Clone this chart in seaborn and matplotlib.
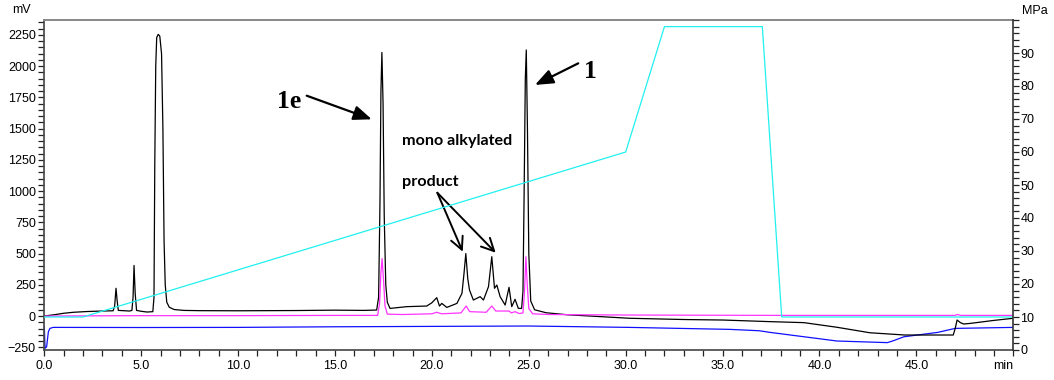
import matplotlib
matplotlib.use("Agg")
import matplotlib.pyplot as plt
import seaborn as sns
import pandas as pd
from matplotlib.ticker import MultipleLocator

# ---------------- data ----------------
# black trace (mV)
black_t = [0.0, 0.5, 1.0, 1.5, 2.2, 3.0, 3.55, 3.63, 3.70, 3.76, 3.82, 4.4,
           4.52, 4.58, 4.63, 4.69, 4.76, 5.0, 5.3, 5.6, 5.66, 5.70, 5.75, 5.80,
           5.88, 5.96, 6.05, 6.12, 6.18, 6.24, 6.32, 6.45, 6.7, 7.2, 8.0, 10.0,
           13.0, 15.0, 16.5, 17.15, 17.25, 17.32, 17.37, 17.42, 17.48, 17.54,
           17.62, 17.70, 17.84, 18.7, 19.73, 19.99, 20.25, 20.39, 20.51, 20.77,
           21.29, 21.55, 21.65, 21.75, 21.85, 21.94, 22.14, 22.49, 22.66, 22.92,
           23.09, 23.23, 23.35, 23.52, 23.78, 23.98, 24.12, 24.29, 24.46, 24.63,
           24.70, 24.76, 24.82, 24.87, 24.93, 25.0, 25.1, 25.3, 25.9, 27.0,
           30.2, 33.0, 35.0, 37.45, 39.2, 40.9, 42.6, 44.4, 46.9, 46.99, 47.1,
           47.27, 47.44, 47.78, 49.0, 50.0]
black_mv = [0, 10, 22, 30, 36, 40, 42, 80, 222, 120, 45, 40,
            45, 150, 405, 180, 45, 38, 32, 35, 150, 1200, 2000, 2230,
            2255, 2240, 2100, 1500, 600, 250, 110, 70, 52, 45, 43, 42,
            44, 47, 45, 48, 150, 900, 1800, 2110, 1700, 800,
            250, 110, 61, 75, 80, 105, 147, 80, 101, 69,
            101, 181, 330, 500, 300, 208, 128, 155, 128, 235,
            475, 222, 248, 155, 88, 230, 75, 134, 61, 61,
            200, 1000, 1900, 2130, 1500, 500, 120, 50, 26, 10,
            -18, -28, -32, -45, -53, -90, -134, -152, -152, -107, -32,
            -53, -64, -59, -35, -18]

# magenta trace (mV)
mag_t = [0.0, 5.0, 10.0, 15.0, 17.2, 17.3, 17.37, 17.43, 17.5, 17.58, 17.7,
         18.5, 20.0, 20.25, 20.5, 21.5, 21.77, 21.95, 22.8, 23.09, 23.3, 23.98,
         24.1, 24.29, 24.5, 24.7, 24.78, 24.85, 24.92, 25.0, 25.2, 26.0, 30.0,
         38.0, 47.0, 47.1, 47.3, 50.0]
mag_mv = [0, 3, 3, 5, 5, 100, 350, 460, 300, 80, 15,
          12, 18, 30, 18, 25, 80, 35, 30, 80, 40, 40,
          25, 35, 20, 25, 200, 475, 250, 60, 18, 12, 8,
          5, 5, 12, 5, 5]

# blue trace (mV)
blue_t = [0.0, 0.04, 0.12, 0.21, 0.29, 0.46, 5.0, 10.0, 15.0, 20.0, 25.0,
          30.2, 35.4, 36.9, 37.45, 39.2, 40.9, 43.5, 43.77, 44.36, 46.1, 47.0,
          50.0]
blue_mv = [-86, -259, -246, -126, -99, -91, -92, -91, -86, -83, -80,
           -91, -107, -118, -131, -166, -200, -213, -200, -166, -131, -99,
           -91]

# cyan trace (MPa, right axis)
cyan_t = [0.0, 2.0, 30.0, 32.0, 37.05, 38.05, 50.0]
cyan_mpa = [10, 10, 60, 98, 98, 10, 10]

x_ticks = [0, 5, 10, 15, 20, 25, 30, 35, 40, 45, 50]
x_labels = ["0.0", "5.0", "10.0", "15.0", "20.0", "25.0", "30.0", "35.0",
            "40.0", "45.0", "min"]
left_ticks = [-250, 0, 250, 500, 750, 1000, 1250, 1500, 1750, 2000, 2250]
right_ticks = [0, 10, 20, 30, 40, 50, 60, 70, 80, 90]

# ---------------- drawing ----------------
sns.set_style("ticks")
plt.rcParams["font.family"] = ["Liberation Sans", "DejaVu Sans"]
plt.rcParams["font.size"] = 9
plt.rcParams["text.color"] = "black"
plt.rcParams["xtick.color"] = "#222222"
plt.rcParams["ytick.color"] = "#222222"
plt.rcParams["xtick.labelcolor"] = "black"
plt.rcParams["ytick.labelcolor"] = "black"

W, H = 1054, 380
fig = plt.figure(figsize=(W / 100, H / 100), dpi=100)
x0, x1, ytop, ybot = 44.3, 1013.3, 20, 350
ax = fig.add_axes([x0 / W, 1 - ybot / H, (x1 - x0) / W, (ybot - ytop) / H])
ax2 = ax.twinx()

lw = 0.9
sns.lineplot(x=blue_t, y=blue_mv, ax=ax, color="#1010ff", lw=lw, sort=False, estimator=None)
sns.lineplot(x=black_t, y=black_mv, ax=ax, color="black", lw=lw, sort=False, estimator=None)
sns.lineplot(x=mag_t, y=mag_mv, ax=ax, color="#ff33ff", lw=lw, sort=False, estimator=None)
sns.lineplot(x=cyan_t, y=cyan_mpa, ax=ax2, color="#22f0f0", lw=lw, sort=False, estimator=None)

ax.set_xlim(0, 50)
ax.set_ylim(-272, 2370)
ax2.set_ylim(0, 100)

ax.set_xticks(x_ticks)
lbls = ax.set_xticklabels(x_labels)
lbls[-1].set_horizontalalignment("right")
ax.xaxis.set_minor_locator(MultipleLocator(1))
ax.set_yticks(left_ticks)
ax.yaxis.set_minor_locator(MultipleLocator(50))
ax2.set_yticks(right_ticks)
ax2.yaxis.set_minor_locator(MultipleLocator(2))

ax.tick_params(axis="both", which="both", direction="out", length=4, width=0.9,
               labelsize=9, pad=2)
ax.tick_params(axis="x", pad=3)
ax2.tick_params(axis="y", which="both", direction="out", length=4, width=0.9,
                labelsize=9, pad=1)
ax.set_xlabel("")
ax.set_ylabel("")
ax2.set_ylabel("")

for s in ["left", "bottom"]:
    ax.spines[s].set_color("#444444")
    ax.spines[s].set_linewidth(1.2)
ax.spines["top"].set_color("#888888")
ax.spines["top"].set_linewidth(1.4)
ax.spines["right"].set_visible(False)
for s in ["left", "bottom", "top"]:
    ax2.spines[s].set_visible(False)
ax2.spines["right"].set_color("#333333")
ax2.spines["right"].set_linewidth(1.2)

fig.text(21 / W, 1 - 10 / H, "mV", ha="center", va="center", fontsize=9)
fig.text(1035 / W, 1 - 11 / H, "MPa", ha="center", va="center", fontsize=9)

# ---------------- annotations ----------------
serif = dict(family=["Liberation Serif", "DejaVu Serif"], weight="bold", size=18.5)
ax.text(12.62, 1716, "1e", ha="center", va="center", **serif)
ax.text(28.2, 1956, "1", ha="center", va="center", **serif)
filled = dict(arrowstyle="-|>,head_length=0.55,head_width=0.22", color="black",
              lw=1.6, mutation_scale=20, shrinkA=0, shrinkB=0)
ax.annotate("", xy=(16.9, 1575), xytext=(13.54, 1764), arrowprops=filled)
ax.annotate("", xy=(25.32, 1850), xytext=(27.55, 2023), arrowprops=filled)

sans = dict(family=["Lato", "DejaVu Sans"], weight="bold", size=11.6)
ax.text(18.44, 1401, "mono alkylated", ha="left", va="center", **sans)
ax.text(18.44, 1075, "product", ha="left", va="center", **sans)
openh = dict(arrowstyle="->,head_length=0.6,head_width=0.3", color="black",
             lw=1.4, mutation_scale=15, shrinkA=0, shrinkB=0)
ax.annotate("", xy=(21.59, 515), xytext=(20.28, 987), arrowprops=openh)
ax.annotate("", xy=(23.29, 507), xytext=(20.28, 987), arrowprops=openh)

fig.savefig("out.png", dpi=100)
